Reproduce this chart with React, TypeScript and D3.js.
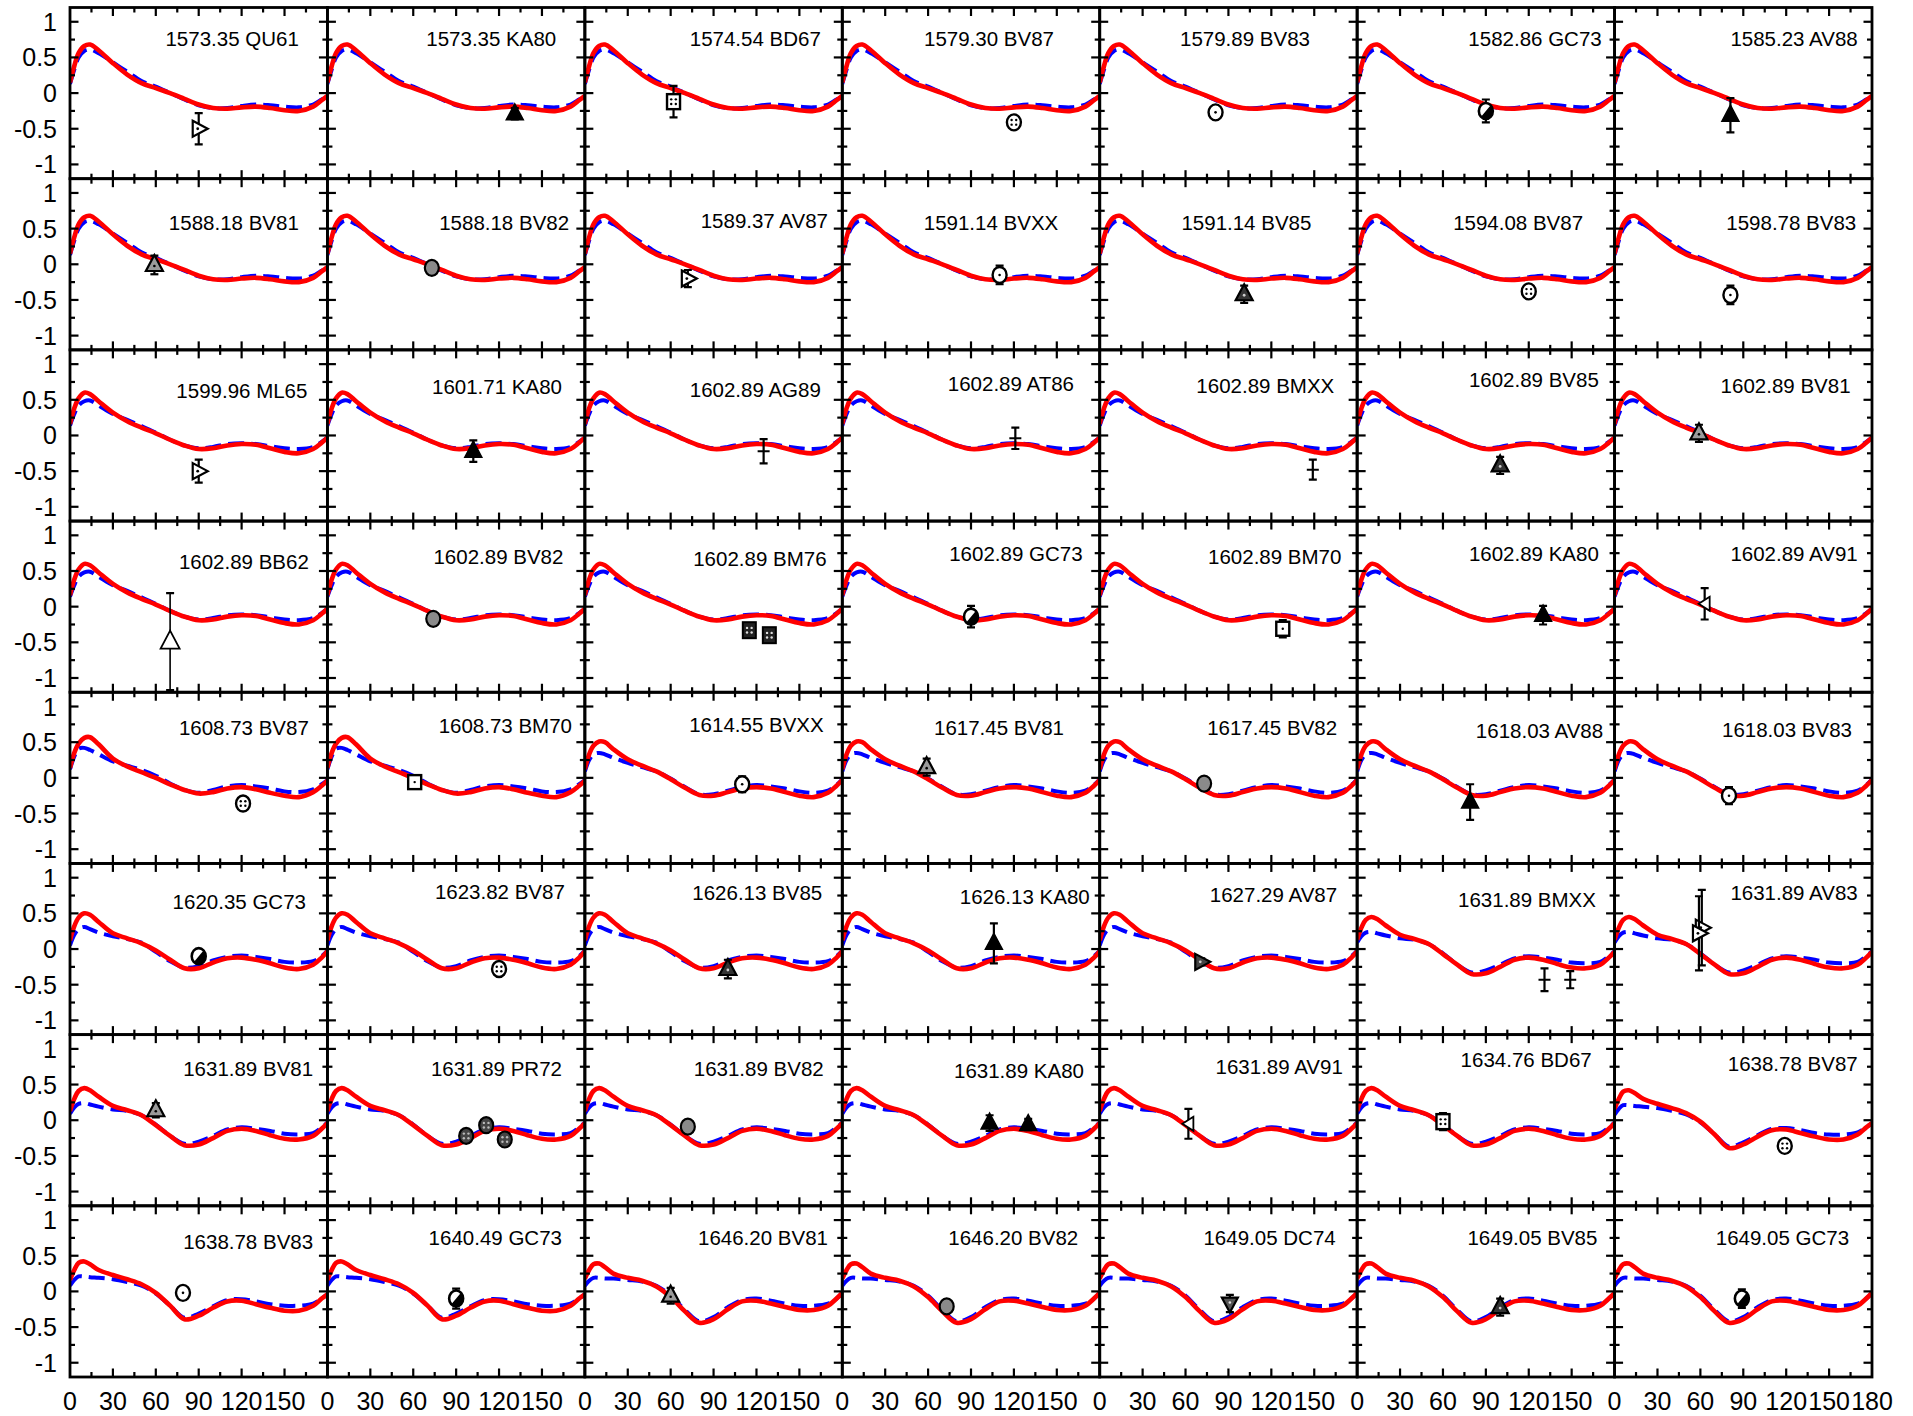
import React from 'react';
import * as d3 from 'd3';

// ---------- data ----------
const xKnots = [0, 3, 6, 10, 14, 20, 30, 40, 50, 60, 70, 80, 90, 100, 110, 120, 130, 140, 150, 160, 170, 176, 180];

const redG1 = [0.15, 0.38, 0.56, 0.66, 0.68, 0.6, 0.42, 0.26, 0.14, 0.07, 0.0, -0.08, -0.16, -0.21, -0.22, -0.2, -0.19, -0.21, -0.24, -0.25, -0.19, -0.1, -0.04];
const blueG1 = [0.13, 0.33, 0.5, 0.59, 0.61, 0.56, 0.43, 0.3, 0.17, 0.09, 0.0, -0.09, -0.17, -0.21, -0.21, -0.18, -0.16, -0.17, -0.19, -0.2, -0.16, -0.09, -0.04];
const redG2 = [0.16, 0.38, 0.52, 0.6, 0.58, 0.48, 0.32, 0.2, 0.11, 0.03, -0.06, -0.14, -0.19, -0.18, -0.14, -0.12, -0.13, -0.18, -0.23, -0.25, -0.19, -0.1, -0.03];
const blueG2 = [0.14, 0.3, 0.42, 0.48, 0.49, 0.42, 0.3, 0.22, 0.13, 0.04, -0.06, -0.14, -0.18, -0.16, -0.12, -0.11, -0.12, -0.15, -0.18, -0.19, -0.16, -0.09, -0.03];
const redG3 = [0.14, 0.35, 0.48, 0.56, 0.57, 0.47, 0.27, 0.16, 0.08, 0.0, -0.09, -0.17, -0.22, -0.2, -0.15, -0.13, -0.16, -0.21, -0.25, -0.27, -0.2, -0.11, -0.04];
const blueG3 = [0.12, 0.3, 0.41, 0.42, 0.39, 0.33, 0.23, 0.17, 0.11, 0.03, -0.08, -0.17, -0.21, -0.17, -0.12, -0.1, -0.12, -0.15, -0.19, -0.2, -0.16, -0.09, -0.03];
const redG4 = [0.12, 0.33, 0.45, 0.51, 0.5, 0.4, 0.26, 0.17, 0.09, -0.02, -0.14, -0.24, -0.25, -0.2, -0.15, -0.13, -0.15, -0.2, -0.25, -0.27, -0.21, -0.11, -0.03];
const blueG4 = [0.09, 0.25, 0.33, 0.35, 0.33, 0.28, 0.21, 0.15, 0.09, -0.01, -0.13, -0.23, -0.23, -0.18, -0.13, -0.1, -0.12, -0.15, -0.19, -0.21, -0.18, -0.1, -0.02];
const redG5 = [0.12, 0.32, 0.44, 0.5, 0.48, 0.38, 0.22, 0.15, 0.08, -0.02, -0.15, -0.27, -0.27, -0.19, -0.13, -0.12, -0.15, -0.2, -0.26, -0.28, -0.22, -0.12, -0.03];
const blueG5 = [0.05, 0.2, 0.28, 0.31, 0.28, 0.23, 0.18, 0.14, 0.09, -0.04, -0.17, -0.26, -0.24, -0.16, -0.11, -0.09, -0.11, -0.14, -0.18, -0.19, -0.17, -0.1, -0.02];
const redG6 = [0.13, 0.3, 0.41, 0.45, 0.42, 0.33, 0.2, 0.14, 0.07, -0.07, -0.22, -0.35, -0.34, -0.25, -0.15, -0.12, -0.15, -0.21, -0.26, -0.27, -0.22, -0.12, -0.04];
const blueG6 = [0.09, 0.18, 0.23, 0.24, 0.22, 0.19, 0.15, 0.13, 0.07, -0.06, -0.22, -0.33, -0.3, -0.22, -0.13, -0.1, -0.12, -0.15, -0.19, -0.2, -0.18, -0.1, -0.03];
const redG7 = [0.16, 0.3, 0.4, 0.42, 0.38, 0.3, 0.23, 0.17, 0.1, -0.02, -0.2, -0.39, -0.34, -0.23, -0.14, -0.13, -0.18, -0.23, -0.27, -0.27, -0.2, -0.1, -0.04];
const blueG7 = [0.08, 0.16, 0.21, 0.21, 0.2, 0.19, 0.17, 0.13, 0.08, -0.03, -0.2, -0.37, -0.31, -0.21, -0.12, -0.11, -0.14, -0.18, -0.2, -0.2, -0.17, -0.1, -0.04];
const redG8 = [0.18, 0.3, 0.38, 0.39, 0.34, 0.25, 0.19, 0.15, 0.07, -0.08, -0.28, -0.44, -0.39, -0.25, -0.14, -0.13, -0.17, -0.22, -0.26, -0.26, -0.2, -0.1, -0.02];
const blueG8 = [0.08, 0.15, 0.19, 0.19, 0.18, 0.18, 0.16, 0.14, 0.08, -0.06, -0.26, -0.42, -0.36, -0.22, -0.12, -0.1, -0.13, -0.17, -0.2, -0.2, -0.17, -0.1, -0.02];

const redCurves = [redG1, redG2, redG3, redG4, redG5, redG6, redG7, redG8];
const blueCurves = [blueG1, blueG2, blueG3, blueG4, blueG5, blueG6, blueG7, blueG8];

const panelLabels = [
  '1573.35 QU61', '1573.35 KA80', '1574.54 BD67', '1579.30 BV87', '1579.89 BV83', '1582.86 GC73', '1585.23 AV88',
  '1588.18 BV81', '1588.18 BV82', '1589.37 AV87', '1591.14 BVXX', '1591.14 BV85', '1594.08 BV87', '1598.78 BV83',
  '1599.96 ML65', '1601.71 KA80', '1602.89 AG89', '1602.89 AT86', '1602.89 BMXX', '1602.89 BV85', '1602.89 BV81',
  '1602.89 BB62', '1602.89 BV82', '1602.89 BM76', '1602.89 GC73', '1602.89 BM70', '1602.89 KA80', '1602.89 AV91',
  '1608.73 BV87', '1608.73 BM70', '1614.55 BVXX', '1617.45 BV81', '1617.45 BV82', '1618.03 AV88', '1618.03 BV83',
  '1620.35 GC73', '1623.82 BV87', '1626.13 BV85', '1626.13 KA80', '1627.29 AV87', '1631.89 BMXX', '1631.89 AV83',
  '1631.89 BV81', '1631.89 PR72', '1631.89 BV82', '1631.89 KA80', '1631.89 AV91', '1634.76 BD67', '1638.78 BV87',
  '1638.78 BV83', '1640.49 GC73', '1646.20 BV81', '1646.20 BV82', '1649.05 DC74', '1649.05 BV85', '1649.05 GC73',
];

// label anchor in data units: [x of text end, y of text centre]
const labelAnchors = [
  [160, 0.77], [160, 0.77], [165, 0.77], [148, 0.77], [147, 0.77], [171, 0.77], [170, 0.77],
  [160, 0.59], [169, 0.59], [170, 0.62], [151, 0.59], [148, 0.59], [158, 0.59], [169, 0.59],
  [166, 0.63], [164, 0.68], [165, 0.65], [162, 0.73], [164, 0.7], [169, 0.79], [165, 0.7],
  [167, 0.64], [165, 0.71], [169, 0.67], [168, 0.74], [169, 0.71], [169, 0.74], [170, 0.74],
  [167, 0.7], [171, 0.73], [167, 0.75], [155, 0.7], [166, 0.7], [172, 0.66], [166, 0.68],
  [165, 0.67], [166, 0.81], [166, 0.79], [173, 0.74], [166, 0.76], [167, 0.69], [170, 0.79],
  [170, 0.73], [164, 0.73], [167, 0.73], [169, 0.7], [170, 0.76], [164, 0.85], [170, 0.8],
  [170, 0.7], [164, 0.75], [170, 0.75], [165, 0.75], [165, 0.75], [168, 0.75], [164, 0.75],
];

const panelCurveGroup = [
  0, 0, 0, 0, 0, 0, 0,
  0, 0, 0, 0, 0, 0, 0,
  1, 1, 1, 1, 1, 1, 1,
  1, 1, 1, 1, 1, 1, 1,
  2, 2, 3, 3, 3, 3, 3,
  4, 4, 4, 4, 4, 5, 5,
  5, 5, 5, 5, 5, 5, 6,
  6, 6, 7, 7, 7, 7, 7,
];

// observations per panel: [longitude, value, error]
const panelObs: number[][][] = [
  [[90, -0.5, 0.22]], [[131, -0.29, 0.08]], [[62, -0.12, 0.22]], [[120, -0.41, 0.04]], [[81, -0.27, 0.04]], [[90, -0.25, 0.16]], [[81, -0.31, 0.24]],
  [[59, -0.01, 0.13]], [[73, -0.05, 0.05]], [[72, -0.2, 0.12]], [[110, -0.15, 0.13]], [[101, -0.42, 0.12]], [[120, -0.38, 0.04]], [[81, -0.43, 0.13]],
  [[90, -0.5, 0.16]], [[102, -0.22, 0.15]], [[125, -0.22, 0.17]], [[121, -0.04, 0.15]], [[149, -0.48, 0.14]], [[100, -0.42, 0.12]], [[59, 0.03, 0.12]],
  [[70, -0.49, 0.68]], [[74, -0.17, 0.04]], [[115, -0.33, 0.06], [129, -0.4, 0.06]], [[90, -0.14, 0.15]], [[128, -0.31, 0.12]], [[130, -0.12, 0.13]], [[63, 0.04, 0.22]],
  [[121, -0.36, 0.04]], [[61, -0.06, 0.04]], [[110, -0.09, 0.11]], [[59, 0.15, 0.12]], [[73, -0.08, 0.04]], [[79, -0.34, 0.25]], [[80, -0.25, 0.12]],
  [[90, -0.1, 0.05]], [[120, -0.28, 0.04]], [[100, -0.28, 0.13]], [[106, 0.08, 0.28]], [[71, -0.18, 0.05]], [[131, -0.43, 0.16], [149, -0.43, 0.12]], [[61, 0.3, 0.53], [59, 0.22, 0.52]],
  [[60, 0.14, 0.1]], [[97, -0.22, 0.04], [111, -0.07, 0.04], [124, -0.27, 0.04]], [[72, -0.09, 0.04]], [[103, -0.04, 0.11], [130, -0.06, 0.08]], [[62, -0.05, 0.21]], [[60, -0.02, 0.12]], [[119, -0.36, 0.04]],
  [[79, -0.02, 0.05]], [[90, -0.1, 0.14]], [[60, -0.06, 0.11]], [[73, -0.21, 0.04]], [[91, -0.17, 0.12]], [[100, -0.22, 0.12]], [[89, -0.1, 0.13]],
];

const panelMarker = [
  'triR', 'triUpFill', 'sqDots', 'circDots', 'circDot', 'circHalf', 'triUpFill',
  'triUpGrey', 'circGrey', 'triR', 'circDot', 'triUpDark', 'circDots', 'circDot',
  'triR', 'triUpFill', 'plus', 'plus', 'plus', 'triUpDark', 'triUpGrey',
  'triUpOpenBig', 'circGrey', 'sqDark', 'circHalf', 'sqOpen', 'triUpFill', 'triLeftOpen',
  'circDots', 'sqOpen', 'circDot', 'triUpGrey', 'circGrey', 'triUpFill', 'circDot',
  'circHalf', 'circDots', 'triUpDark', 'triUpFill', 'triRDark', 'plus', 'triR',
  'triUpGrey', 'circDark', 'circGrey', 'triUpFill', 'triLeftOpen', 'sqDots', 'circDots',
  'circDot', 'circHalf', 'triUpGrey', 'circGrey', 'triDown', 'triUpDark', 'circHalf',
];

const xTickMajor = [0, 30, 60, 90, 120, 150, 180];
const xTickMinor = [15, 45, 75, 105, 135, 165];
const yTickMajor = [-1, -0.5, 0, 0.5, 1];
const yTickMinor = [-0.75, -0.25, 0.25, 0.75];
const yTickLabels = ['-1', '-0.5', '0', '0.5', '1'];
const xTickLabels = ['0', '30', '60', '90', '120', '150', '180'];

// ---------- layout ----------
const W = 1913;
const H = 1416;
const L = 70;
const R = 1872;
const T = 7.5;
const B = 1377;
const NC = 7;
const NR = 8;
const PW = (R - L) / NC;
const PH = (B - T) / NR;
const FONT = '"Liberation Sans", Arial, Helvetica, sans-serif';

function Glyph({ kind, cx, cy }: { kind: string; cx: number; cy: number }) {
  const sw = 2.2;
  const k = '#000';
  const dots4 = (fill: string) => (
    <g fill={fill}>
      <circle cx={cx - 2.3} cy={cy - 2.3} r={1.2} />
      <circle cx={cx + 2.3} cy={cy - 2.3} r={1.2} />
      <circle cx={cx - 2.3} cy={cy + 2.3} r={1.2} />
      <circle cx={cx + 2.3} cy={cy + 2.3} r={1.2} />
    </g>
  );
  switch (kind) {
    case 'triR':
      return (
        <g>
          <polygon points={`${cx - 6},${cy - 8} ${cx + 9},${cy} ${cx - 6},${cy + 8}`} fill="#fff" stroke={k} strokeWidth={sw} />
          <circle cx={cx - 1} cy={cy} r={1.4} fill={k} />
        </g>
      );
    case 'triRDark':
      return (
        <g>
          <polygon points={`${cx - 6},${cy - 8} ${cx + 9},${cy} ${cx - 6},${cy + 8}`} fill="#444" stroke={k} strokeWidth={sw} />
          <circle cx={cx - 1} cy={cy} r={1.4} fill="#ccc" />
        </g>
      );
    case 'triUpFill':
      return <polygon points={`${cx},${cy - 10} ${cx + 8.5},${cy + 6} ${cx - 8.5},${cy + 6}`} fill={k} stroke={k} strokeWidth={1.5} />;
    case 'triUpGrey':
      return (
        <g>
          <polygon points={`${cx},${cy - 10} ${cx + 8.5},${cy + 6} ${cx - 8.5},${cy + 6}`} fill="#9a9a9a" stroke={k} strokeWidth={sw} />
          <circle cx={cx} cy={cy + 1} r={1.3} fill={k} />
        </g>
      );
    case 'triUpDark':
      return (
        <g>
          <polygon points={`${cx},${cy - 10} ${cx + 8.5},${cy + 6} ${cx - 8.5},${cy + 6}`} fill="#333" stroke={k} strokeWidth={sw} />
          <circle cx={cx} cy={cy + 1} r={1.4} fill="#ccc" />
        </g>
      );
    case 'triUpOpenBig':
      return <polygon points={`${cx},${cy - 11} ${cx + 9.5},${cy + 7} ${cx - 9.5},${cy + 7}`} fill="#fff" stroke={k} strokeWidth={1.8} />;
    case 'triDown':
      return (
        <g>
          <polygon points={`${cx},${cy + 9} ${cx + 8},${cy - 6} ${cx - 8},${cy - 6}`} fill="#555" stroke={k} strokeWidth={sw} />
          <circle cx={cx} cy={cy - 1} r={1.3} fill="#ddd" />
        </g>
      );
    case 'triLeftOpen':
      return <polygon points={`${cx + 5},${cy - 7} ${cx - 6},${cy} ${cx + 5},${cy + 7}`} fill="#fff" stroke={k} strokeWidth={1.8} />;
    case 'sqDots':
      return (
        <g>
          <rect x={cx - 6.5} y={cy - 7.5} width={13} height={15} fill="#fff" stroke={k} strokeWidth={2.4} />
          {dots4(k)}
        </g>
      );
    case 'sqOpen':
      return (
        <g>
          <rect x={cx - 6.5} y={cy - 7} width={13} height={14} fill="#fff" stroke={k} strokeWidth={2.4} />
          <circle cx={cx} cy={cy} r={1.2} fill={k} />
        </g>
      );
    case 'sqDark':
      return (
        <g>
          <rect x={cx - 6.5} y={cy - 8} width={13} height={16} fill="#222" stroke={k} strokeWidth={2} />
          {dots4('#ddd')}
        </g>
      );
    case 'circDots':
      return (
        <g>
          <ellipse cx={cx} cy={cy} rx={7} ry={8} fill="#fff" stroke={k} strokeWidth={2.4} />
          {dots4(k)}
        </g>
      );
    case 'circDot':
      return (
        <g>
          <ellipse cx={cx} cy={cy} rx={7} ry={8} fill="#fff" stroke={k} strokeWidth={2.4} />
          <circle cx={cx} cy={cy} r={1.3} fill={k} />
        </g>
      );
    case 'circHalf':
      return (
        <g>
          <ellipse cx={cx} cy={cy} rx={7} ry={8} fill="#fff" stroke={k} strokeWidth={2.6} />
          <path d={`M${cx + 5},${cy - 6} A7,8 0 0 1 ${cx - 5},${cy + 6} Z`} fill={k} />
        </g>
      );
    case 'circGrey':
      return <ellipse cx={cx} cy={cy} rx={7} ry={8} fill="#8a8a8a" stroke={k} strokeWidth={2.2} />;
    case 'circDark':
      return (
        <g>
          <ellipse cx={cx} cy={cy} rx={7} ry={8} fill="#444" stroke={k} strokeWidth={2.2} />
          {dots4('#bbb')}
        </g>
      );
    default:
      return null;
  }
}

function Panel({ idx }: { idx: number }) {
  const col = idx % NC;
  const row = Math.floor(idx / NC);
  const x0 = L + col * PW;
  const y0 = T + row * PH;
  const x = d3.scaleLinear().domain([0, 180]).range([x0, x0 + PW]);
  const y = d3.scaleLinear().domain([-1.2, 1.2]).range([y0 + PH, y0]);
  const g = panelCurveGroup[idx];
  const line = d3
    .line<number>()
    .x((_, i) => x(xKnots[i]))
    .y((v) => y(v))
    .curve(d3.curveCatmullRom.alpha(0.5));
  const clipId = `clip${idx}`;
  const kind = panelMarker[idx];
  const [lx, ly] = labelAnchors[idx];
  const major = 8.5;
  const minor = 5;
  const tickLines: JSX.Element[] = [];
  xTickMajor.slice(1, -1).forEach((t) => {
    tickLines.push(<line key={`xb${t}`} x1={x(t)} x2={x(t)} y1={y0 + PH} y2={y0 + PH - major} />);
    tickLines.push(<line key={`xt${t}`} x1={x(t)} x2={x(t)} y1={y0} y2={y0 + major} />);
  });
  xTickMinor.forEach((t) => {
    tickLines.push(<line key={`xbm${t}`} x1={x(t)} x2={x(t)} y1={y0 + PH} y2={y0 + PH - minor} />);
    tickLines.push(<line key={`xtm${t}`} x1={x(t)} x2={x(t)} y1={y0} y2={y0 + minor} />);
  });
  yTickMajor.forEach((t) => {
    tickLines.push(<line key={`yl${t}`} x1={x0} x2={x0 + major} y1={y(t)} y2={y(t)} />);
    tickLines.push(<line key={`yr${t}`} x1={x0 + PW} x2={x0 + PW - major} y1={y(t)} y2={y(t)} />);
  });
  yTickMinor.forEach((t) => {
    tickLines.push(<line key={`ylm${t}`} x1={x0} x2={x0 + minor} y1={y(t)} y2={y(t)} />);
    tickLines.push(<line key={`yrm${t}`} x1={x0 + PW} x2={x0 + PW - minor} y1={y(t)} y2={y(t)} />);
  });

  return (
    <g>
      <defs>
        <clipPath id={clipId}>
          <rect x={x0} y={y0} width={PW} height={PH} />
        </clipPath>
      </defs>
      <g clipPath={`url(#${clipId})`}>
        <path d={line(blueCurves[g]) || ''} fill="none" stroke="#0000ff" strokeWidth={4} strokeDasharray="16,7" />
        <path d={line(redCurves[g]) || ''} fill="none" stroke="#ff0000" strokeWidth={4.6} />
        {panelObs[idx].map(([lon, v, e], j) => {
          const cx = x(lon);
          const top = y(v + e);
          const bot = y(v - e);
          const thin = kind === 'triUpOpenBig';
          return (
            <g key={j}>
              <line x1={cx} x2={cx} y1={top} y2={bot} stroke="#000" strokeWidth={thin ? 1.6 : 2.2} />
              <line x1={cx - 4} x2={cx + 4} y1={top} y2={top} stroke="#000" strokeWidth={2.2} />
              <line x1={cx - 4} x2={cx + 4} y1={bot} y2={bot} stroke="#000" strokeWidth={2.2} />
              {kind === 'plus' ? (
                <line x1={cx - 6} x2={cx + 6} y1={y(v)} y2={y(v)} stroke="#000" strokeWidth={2} />
              ) : (
                <Glyph kind={kind} cx={cx} cy={y(v)} />
              )}
            </g>
          );
        })}
      </g>
      <g stroke="#000" strokeWidth={2.2}>{tickLines}</g>
      <rect x={x0} y={y0} width={PW} height={PH} fill="none" stroke="#000" strokeWidth={2.8} />
      <text x={x(lx)} y={y(ly)} textAnchor="end" dominantBaseline="central" fontFamily={FONT} fontSize={20.5} fill="#000">
        {panelLabels[idx]}
      </text>
      {col === 0 &&
        yTickMajor.map((t, i) => (
          <text key={`yl${t}`} x={x0 - 13} y={y(t)} textAnchor="end" dominantBaseline="central" fontFamily={FONT} fontSize={25} fill="#000">
            {yTickLabels[i]}
          </text>
        ))}
      {row === NR - 1 &&
        xTickMajor.map((t, i) =>
          t === 180 && col !== NC - 1 ? null : (
            <text key={`xl${t}`} x={x(t)} y={y0 + PH + 24} textAnchor="middle" dominantBaseline="central" fontFamily={FONT} fontSize={25} fill="#000">
              {xTickLabels[i]}
            </text>
          )
        )}
    </g>
  );
}

export default function App() {
  const panels = d3.range(NC * NR);
  return (
    <svg width={W} height={H} viewBox={`0 0 ${W} ${H}`} style={{ position: 'absolute', left: 0, top: 0, background: '#fff' }}>
      <rect x={0} y={0} width={W} height={H} fill="#fff" />
      {panels.map((i) => (
        <Panel key={i} idx={i} />
      ))}
    </svg>
  );
}
